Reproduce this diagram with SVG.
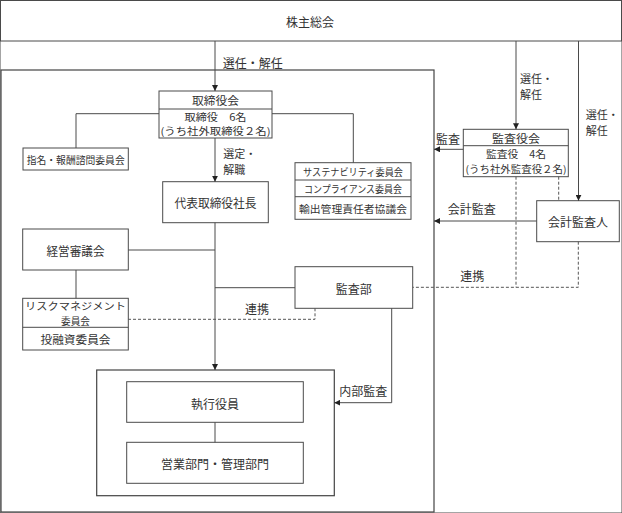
<svg xmlns="http://www.w3.org/2000/svg" width="622" height="513" viewBox="0 0 622 513">
<defs>
<marker id="arr" viewBox="0 0 10 10" refX="10" refY="5" markerWidth="6" markerHeight="6" orient="auto" markerUnits="userSpaceOnUse">
<path d="M0,0 L10,5 L0,10 z" fill="#222"/>
</marker>
<style>
rect{fill:#fff;stroke:#4a4a4a;stroke-width:1}
.frame{fill:none;stroke:#444;stroke-width:1.2}
line.div{stroke:#4a4a4a;stroke-width:1}
text{font-family:"Noto Sans CJK JP","Noto Sans",sans-serif;fill:#333;font-size:12px;text-anchor:middle;dominant-baseline:central}
.s{font-size:10px}
.m{font-size:11px}
.c path{fill:none;stroke:#4a4a4a;stroke-width:1}
.c path.a{marker-end:url(#arr)}
.c path.d{stroke-dasharray:3 2;stroke:#555}
.lbl{text-anchor:start}
</style>
</defs>
<rect width="622" height="513" fill="#fff" stroke="none"/>

<g id="outer-frame"><rect class="frame" x="1" y="70" width="433" height="442"/></g>
<g id="inner-frame"><rect class="frame" x="96.7" y="370" width="237.6" height="125.7" style="fill:none"/></g>

<g id="kabunushi"><rect x="0.5" y="0.5" width="621" height="40.5"/><text x="310" y="21.5" font-size="13">株主総会</text></g>

<g id="torishimariyakukai">
<rect x="159" y="91" width="113" height="47"/>
<line class="div" x1="159" y1="109" x2="272" y2="109"/>
<text x="215.5" y="100" class="m" textLength="47" lengthAdjust="spacingAndGlyphs">取締役会</text>
<text x="215.5" y="116.2" class="s" textLength="62" lengthAdjust="spacingAndGlyphs">取締役　6名</text>
<text x="215.5" y="130.6" class="s" textLength="110" lengthAdjust="spacingAndGlyphs">(うち社外取締役２名)</text>
</g>

<g id="shimei"><rect x="23" y="148" width="105.3" height="22"/><text x="75.7" y="159.3" class="s" textLength="98" lengthAdjust="spacingAndGlyphs">指名・報酬諮問委員会</text></g>

<g id="sustain">
<rect x="295" y="162.7" width="116" height="56.6"/>
<line class="div" x1="295" y1="180" x2="411" y2="180"/>
<line class="div" x1="295" y1="196.7" x2="411" y2="196.7"/>
<text x="353" y="171.5" class="s" textLength="100" lengthAdjust="spacingAndGlyphs">サステナビリティ委員会</text>
<text x="353" y="188.5" class="s" textLength="98" lengthAdjust="spacingAndGlyphs">コンプライアンス委員会</text>
<text x="353" y="208.2" class="s" textLength="108" lengthAdjust="spacingAndGlyphs">輸出管理責任者協議会</text>
</g>

<g id="daihyo"><rect x="162.7" y="181.7" width="105.6" height="41"/><text x="215.5" y="202.5" textLength="82" lengthAdjust="spacingAndGlyphs">代表取締役社長</text></g>

<g id="keiei"><rect x="22.7" y="229" width="105.6" height="41"/><text x="75.5" y="250" textLength="58" lengthAdjust="spacingAndGlyphs">経営審議会</text></g>

<g id="risk">
<rect x="22.7" y="298.3" width="105.6" height="51.7"/>
<line class="div" x1="22.7" y1="327.3" x2="128.3" y2="327.3"/>
<text x="75.5" y="305.8" class="s" textLength="101" lengthAdjust="spacingAndGlyphs">リスクマネジメント</text>
<text x="75.5" y="320" class="s" textLength="29" lengthAdjust="spacingAndGlyphs">委員会</text>
<text x="75.5" y="338.8" class="m" textLength="70" lengthAdjust="spacingAndGlyphs">投融資委員会</text>
</g>

<g id="kansabu"><rect x="295" y="266.7" width="117.7" height="41.6"/><text x="353.8" y="288">監査部</text></g>

<g id="kansayakukai">
<rect x="463.3" y="129.3" width="105" height="47.4"/>
<line class="div" x1="463.3" y1="145.7" x2="568.3" y2="145.7"/>
<text x="516" y="137.6" class="m" textLength="48" lengthAdjust="spacingAndGlyphs">監査役会</text>
<text x="516" y="153.7" class="s" textLength="60" lengthAdjust="spacingAndGlyphs">監査役　4名</text>
<text x="516" y="168.3" class="s" textLength="101" lengthAdjust="spacingAndGlyphs">(うち社外監査役２名)</text>
</g>

<g id="kaikei"><rect x="536.7" y="200.7" width="82.6" height="41"/><text x="578" y="221.5" textLength="60" lengthAdjust="spacingAndGlyphs">会計監査人</text></g>

<g id="shikko"><rect x="126.7" y="381.7" width="176.6" height="40.6"/><text x="215" y="403">執行役員</text></g>

<g id="eigyo"><rect x="126.7" y="442.3" width="176.6" height="41"/><text x="215" y="463.5" textLength="108" lengthAdjust="spacingAndGlyphs">営業部門・管理部門</text></g>

<g id="connectors" class="c">
<path class="a" d="M215,41 V91"/>
<path class="a" d="M516,41 V129.3"/>
<path class="a" d="M578.5,41 V200.7"/>
<path d="M159,113.7 H76 V148"/>
<path d="M272,113.7 H353.3 V162.7"/>
<path class="a" d="M215,138 V181.7"/>
<path class="a" d="M215,222.7 V370"/>
<path d="M128.3,250 H215"/>
<path d="M215,287.7 H295"/>
<path d="M76,270 V298.3"/>
<path class="a" d="M463.3,149.3 H434"/>
<path class="a" d="M536.7,221 H434"/>
<path class="a" d="M391.7,308.3 V402.7 H334.3"/>
<path d="M215,422.3 V442.3"/>
<path class="d" d="M516,176.7 V287.3"/>
<path class="d" d="M558.7,176.7 V200.7"/>
<path class="d" d="M578.3,241.7 V287.3 H412.7"/>
<path class="d" d="M315,308.3 V319.3 H128.3"/>
</g>

<g id="labels">
<text class="lbl" x="222.7" y="62.7" textLength="60" lengthAdjust="spacingAndGlyphs">選任・解任</text>
<text class="lbl m" x="520" y="77.5">選任・</text>
<text class="lbl m" x="520" y="93.5">解任</text>
<text class="lbl m" x="585.7" y="113.5">選任・</text>
<text class="lbl m" x="585.7" y="129.5">解任</text>
<text class="lbl m" x="223.3" y="152.5">選定・</text>
<text class="lbl m" x="223.3" y="169">解職</text>
<text x="448" y="138">監査</text>
<text x="471.7" y="208">会計監査</text>
<text x="472.3" y="275">連携</text>
<text x="257" y="308.3">連携</text>
<text x="363.3" y="390">内部監査</text>
</g>
</svg>
